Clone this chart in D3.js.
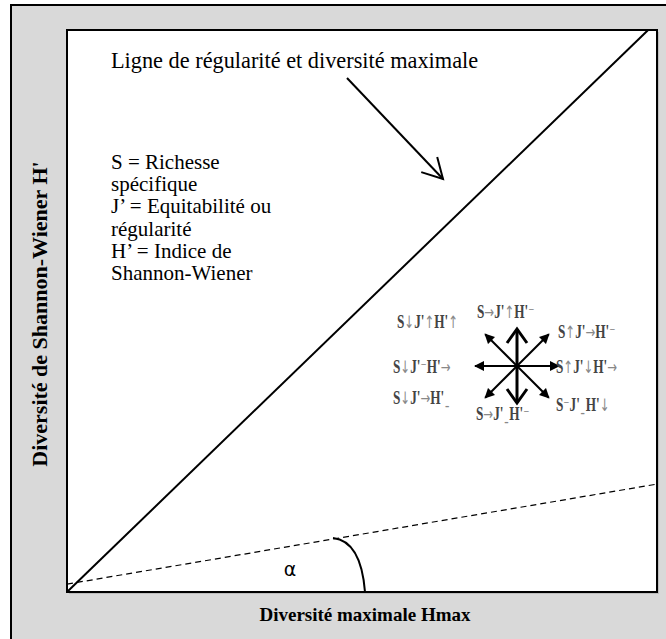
<!DOCTYPE html>
<html><head><meta charset="utf-8">
<script src="https://cdn.jsdelivr.net/npm/d3@7"></script>
<style>html,body{margin:0;padding:0;background:#fff;}svg{display:block;}
.serif{font-family:"Liberation Serif","Times New Roman","DejaVu Serif",serif;}</style>
</head><body>
<svg id="chart" width="666" height="639"></svg>
<script>
// ---- data ----
const xDomain = [0, 10];
const yDomain = [0, 10];
const diagonalLine = [[0, 0], [9.85, 10]];        // ligne de régularité et diversité maximale
const dashedLine = [[0, 0.14], [10, 1.92]];        // pente alpha
const xLabel = "Diversité maximale Hmax";
const yLabel = "Diversité de Shannon-Wiener H'";
const title = "Ligne de régularité et diversité maximale";
const legendLines = ["S = Richesse", "spécifique", "J’ = Equitabilité ou", "régularité", "H’ = Indice de", "Shannon-Wiener"];
const compassAngles = [90, 45, 0, -45, -90, -135, 180, 135]; // degrees, counter-clockwise from east
const compassLabels = [
  ["S", "→", "J'", "↑", "H'", "⁻"],
  ["S", "↑", "J'", "→", "H'", "⁻"],
  ["S", "↑", "J'", "↓", "H'", "→"],
  ["S", "⁻", "J'", "ˍ", "H'", "↓"],
  ["S", "→", "J'", "ˍ", "H'", "⁻"],
  ["S", "↓", "J'", "→", "H'", "ˍ"],
  ["S", "↓", "J'", "⁻", "H'", "→"],
  ["S", "↓", "J'", "↑", "H'", "↑"]
];

// ---- layout ----
const svg = d3.select("#chart");
const inner = {x0: 67, y0: 30, x1: 657, y1: 592};
const x = d3.scaleLinear().domain(xDomain).range([inner.x0, inner.x1]);
const y = d3.scaleLinear().domain(yDomain).range([inner.y1, inner.y0]);

svg.append("rect").attr("x", 11).attr("y", 5).attr("width", 700).attr("height", 700)
  .attr("fill", "#d9d9d9").attr("stroke", "#000").attr("stroke-width", 2);
svg.append("rect").attr("x", inner.x0 + 2).attr("y", inner.y0 + 2)
  .attr("width", inner.x1 - inner.x0).attr("height", inner.y1 - inner.y0).attr("fill", "#bdbdbd");
svg.append("rect").attr("x", inner.x0).attr("y", inner.y0)
  .attr("width", inner.x1 - inner.x0).attr("height", inner.y1 - inner.y0)
  .attr("fill", "#fff").attr("stroke", "#000").attr("stroke-width", 2);

const line = d3.line().x(d => x(d[0])).y(d => y(d[1]));
svg.append("path").attr("d", line(diagonalLine)).attr("fill", "none").attr("stroke", "#000").attr("stroke-width", 2);
svg.append("path").attr("d", line(dashedLine)).attr("fill", "none").attr("stroke", "#000")
  .attr("stroke-width", 1.2).attr("stroke-dasharray", "6,4");

// angle arc
svg.append("path").attr("d", "M333,538 Q361,541 365,592").attr("fill", "none").attr("stroke", "#000").attr("stroke-width", 2);
svg.append("text").attr("x", 290).attr("y", 576).attr("text-anchor", "middle")
  .attr("font-family", "DejaVu Sans, sans-serif").attr("font-size", 19).text("α");

// title + arrow
svg.append("text").attr("class", "serif").attr("x", 111).attr("y", 68)
  .attr("font-size", 22.3).text(title);
function openArrow(x1, y1, x2, y2, w, headLen, headW) {
  const a = Math.atan2(y2 - y1, x2 - x1);
  const g = svg.append("g").attr("stroke", "#000").attr("stroke-width", w).attr("fill", "none");
  g.append("line").attr("x1", x1).attr("y1", y1).attr("x2", x2).attr("y2", y2);
  const p1 = [x2 - headLen * Math.cos(a) + headW * Math.sin(a), y2 - headLen * Math.sin(a) - headW * Math.cos(a)];
  const p2 = [x2 - headLen * Math.cos(a) - headW * Math.sin(a), y2 - headLen * Math.sin(a) + headW * Math.cos(a)];
  g.append("path").attr("d", `M${p1}L${x2},${y2}L${p2}`).attr("stroke-linejoin", "miter");
}
openArrow(347, 78, 443, 179, 2, 20, 11);

// legend text
svg.append("g").attr("class", "serif").selectAll("text").data(legendLines).join("text")
  .attr("x", 111).attr("y", (d, i) => 169 + i * 22.2)
  .attr("font-size", 21).text(d => d);

// axis labels
svg.append("text").attr("class", "serif").attr("x", 365).attr("y", 621).attr("text-anchor", "middle")
  .attr("font-weight", "bold").attr("font-size", 19).text(xLabel);
svg.append("text").attr("class", "serif").attr("transform", "translate(47,314) rotate(-90)").attr("text-anchor", "middle")
  .attr("font-weight", "bold").attr("font-size", 22).text(yLabel);

// compass
const cx = 517, cy = 366;
const defs = svg.append("defs");
defs.append("marker").attr("id", "tri").attr("viewBox", "0 0 10 10").attr("refX", 9).attr("refY", 5)
  .attr("markerWidth", 5).attr("markerHeight", 5).attr("orient", "auto-start-reverse")
  .append("path").attr("d", "M0,0L10,5L0,10Z").attr("fill", "#000");
const lenFor = a => (a === 90 || a === -90) ? 37 : (a === 0 || a === 180) ? 42 : 45;
compassAngles.forEach(a => {
  const r = a * Math.PI / 180, L = lenFor(a);
  const tx = cx + L * Math.cos(r), ty = cy - L * Math.sin(r);
  if (a === 90 || a === -90) {
    openArrow(cx, cy, tx, ty, 3, 14, 10);
  } else {
    svg.append("line").attr("x1", cx).attr("y1", cy).attr("x2", tx).attr("y2", ty)
      .attr("stroke", "#000").attr("stroke-width", 2).attr("marker-end", "url(#tri)");
  }
});
const labelPos = [[477, 318], [558, 338], [556, 373], [556, 411], [476, 420], [393, 404], [393, 373], [397, 328]];
compassLabels.forEach((parts, i) => {
  const [lx, ly] = labelPos[i];
  const t = svg.append("text").attr("class", "serif").attr("x", lx).attr("y", ly)
    .attr("font-size", 17).attr("font-weight", "bold")
    .attr("fill", "#444").attr("transform", `translate(${lx},${ly}) scale(0.78,1.15) translate(${-lx},${-ly})`);
  parts.forEach((p, j) => {
    const ts = t.append("tspan").text(p);
    if (j % 2) ts.attr("fill", "#888").attr("font-weight", "normal")
      .style("font-family", "'DejaVu Sans', sans-serif").attr("font-size", 15);
  });
});
</script>
</body></html>
